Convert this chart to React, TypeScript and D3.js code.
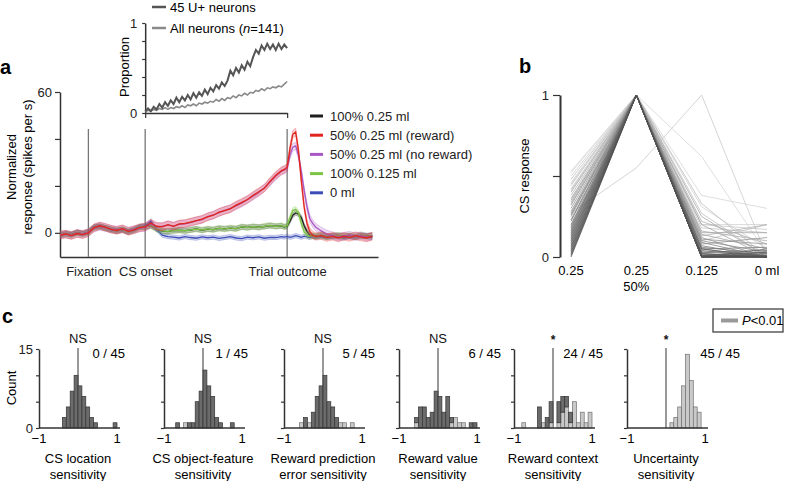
import React, { useEffect, useRef } from 'react'
import * as d3 from 'd3'

const font = 'Liberation Sans, Arial, Helvetica, sans-serif'

// ---- panel a: population response, time in s relative to CS onset
const times = [
  -1.5, -1.4, -1.3, -1.2, -1.1, -1.0, -0.9, -0.8, -0.7, -0.6, -0.5, -0.4, -0.3, -0.2, -0.1,
  0, 0.1, 0.2, 0.3, 0.4, 0.5, 0.6, 0.7, 0.8, 0.9, 1.0, 1.1, 1.2, 1.3, 1.4, 1.5, 1.6, 1.7, 1.8, 1.9, 2.0, 2.1, 2.2, 2.3, 2.4,
  2.45, 2.5, 2.55, 2.6, 2.65, 2.7, 2.75, 2.8, 2.85, 2.9, 2.95, 3.0,
  3.1, 3.2, 3.3, 3.4, 3.5, 3.6, 3.7, 3.8, 3.9, 4.0,
]

const black100 = [
  -0.9, -0.5, -0.9, 0.1, -0.4, 0.2, 2.3, 2.8, 2.1, 1.5, 0.9, 1.5, 0.5, 1.1, 2.3,
  2.5, 3.1, 1.5, 0.7, 0.5, 1, 1.1, 0.9, 1.2, 1.7, 1.1, 1.6, 1.4, 1.9, 1.7, 2, 1.8, 2.5, 2.3, 2.6, 2.4, 2.7, 3.1, 2.8, 3,
  2.5, 2.8, 5, 7.5, 8.5, 8, 6.5, 3, 0.5, -1, -1.2, -1.5,
  -1.1, -1.6, -1.3, -1.1, -1.5, -1.3, -1.6, -1.1, -1.3, -1.2,
]
const red50 = [
  -1, -0.5, -1.2, -0.3, -0.8, 0, 2.2, 3, 2.4, 1.5, 1, 1.8, 0.6, 1.2, 2.2,
  2.5, 4.2, 2.8, 2.5, 3.5, 2.8, 3.8, 4, 4.6, 5.2, 5.8, 6.8, 7.5, 8.8, 9.5, 10.2, 11.8, 13, 14.2, 16, 17.5, 19, 22, 24.5, 26.5,
  27, 28, 36, 42, 43, 35, 22, 11, 4, 0.5, -1, -1.5,
  -1.2, -2, -1.5, -2.2, -1.5, -2, -1.2, -1.8, -2.2, -1.5,
]
const purple50 = [
  -0.8, -0.6, -1, -0.2, -0.6, 0.2, 2, 2.8, 2.2, 1.6, 1.2, 1.6, 0.8, 1.4, 2,
  2.3, 3.8, 2.6, 2.8, 3.3, 2.9, 3.6, 3.8, 4.4, 5.1, 5.6, 6.9, 7.6, 8.6, 9.6, 10.4, 11.5, 12.6, 14.1, 15.6, 17.2, 19.2, 21.6, 24.2, 26.2,
  26.8, 27.5, 33, 36.5, 37, 33, 26, 18, 11, 6, 4, 2.5,
  0.8, -0.5, -1.2, -1.8, -1.4, -1, -1.6, -1.2, -1.8, -1.4,
]
const green125 = [
  -1, -0.4, -0.8, 0, -0.5, 0.3, 2.4, 2.7, 2, 1.4, 0.8, 1.4, 0.4, 1.2, 2.4,
  2.6, 3, 1.6, 0.8, 0.6, 0.9, 1.2, 0.8, 1.3, 1.6, 1.2, 1.7, 1.3, 2, 1.6, 2.1, 1.7, 2.6, 2.2, 2.7, 2.3, 2.8, 3.2, 2.7, 3.1,
  2.6, 3, 6.5, 9.5, 10, 8.5, 4, 0.5, -1, -1.5, -1.2, -1.6,
  -1, -1.8, -1.4, -1, -1.6, -1.2, -1.8, -1, -1.4, -1.2,
]
const blue0 = [
  -1.1, -0.3, -0.7, 0.1, -0.4, 0.4, 2.5, 2.9, 2.2, 1.3, 1.2, 1.3, 0.7, 1.5, 2.6,
  3, 5, 1.5, -1, -1.6, -1.8, -2.2, -1.6, -2, -2.3, -1.7, -2.1, -1.8, -2.4, -2, -1.6, -2.2, -2.5, -1.8, -2.1, -1.7, -2.3, -1.9, -2, -1.6,
  -1.8, -1.5, -1.9, -1.6, -1.2, -1.5, -1.9, -1.4, -1.7, -2, -1.5, -1.8,
  -1.6, -2, -1.5, -1.8, -2.1, -1.6, -1.9, -1.4, -1.7, -2,
]
const traceNames = ['100% 0.25 ml', '50% 0.25 ml (reward)', '50% 0.25 ml (no reward)', '100% 0.125 ml', '0 ml']
const traceValues = [black100, red50, purple50, green125, blue0]
const traceSem = [1, 1.6, 1.6, 1.2, 0.9]
const traceColors = ['#1e1e1e', '#e2261f', '#a957c4', '#7cc544', '#3c4db8']

const eventTimes = [-1, 0, 2.5]
const eventLabels = ['Fixation', 'CS onset', 'Trial outcome']

// inset: proportion of neurons
const insetTimes = d3.range(0, 2.5001, 0.05)
const propUplus = [
  0.02, 0.05, 0.02, 0.07, 0.04, 0.1, 0.06, 0.12, 0.08, 0.14, 0.1, 0.17, 0.12, 0.18, 0.14, 0.2, 0.15,
  0.22, 0.17, 0.23, 0.19, 0.26, 0.21, 0.28, 0.24, 0.31, 0.27, 0.34, 0.3, 0.36, 0.47, 0.42, 0.5, 0.45,
  0.53, 0.48, 0.57, 0.52, 0.62, 0.7, 0.66, 0.75, 0.7, 0.77, 0.71, 0.76, 0.7, 0.77, 0.71, 0.76, 0.72,
]
const propAll = [
  0.01, 0.03, 0.02, 0.04, 0.03, 0.05, 0.04, 0.06, 0.04, 0.06, 0.05, 0.07, 0.06, 0.08, 0.06, 0.09, 0.08,
  0.1, 0.08, 0.11, 0.1, 0.12, 0.11, 0.13, 0.12, 0.15, 0.13, 0.16, 0.14, 0.17, 0.16, 0.19, 0.17, 0.2,
  0.19, 0.22, 0.2, 0.23, 0.22, 0.25, 0.24, 0.27, 0.25, 0.28, 0.27, 0.29, 0.28, 0.3, 0.29, 0.32, 0.35,
]

// ---- panel b: CS response per neuron [100% 0.25, 50% 0.25, 100% 0.125, 0 ml]
const doseLabels = ['0.25', '0.25 50%', '0.125', '0 ml']
const csResponse = [
  [0.53, 1, 0.62, 0.02], [0.52, 1, 0.38, 0.3], [0.5, 1, 0.31, 0.05], [0.48, 1, 0.27, 0.0],
  [0.46, 1, 0.2, 0.2], [0.44, 1, 0.2, 0.17], [0.42, 1, 0.18, 0.15], [0.4, 1, 0.2, 0.0],
  [0.38, 1, 0.16, 0.1], [0.36, 1, 0.14, 0.05], [0.34, 1, 0.13, 0.2], [0.32, 1, 0.12, 0.0],
  [0.3, 1, 0.11, 0.08], [0.28, 1, 0.1, 0.03], [0.26, 1, 0.09, 0.0], [0.25, 1, 0.08, 0.12],
  [0.23, 1, 0.07, 0.0], [0.22, 1, 0.06, 0.02], [0.2, 1, 0.05, 0.0], [0.19, 1, 0.05, 0.06],
  [0.18, 1, 0.04, 0.0], [0.17, 1, 0.03, 0.01], [0.16, 1, 0.03, 0.04], [0.15, 1, 0.02, 0.0],
  [0.14, 1, 0.02, 0.0], [0.13, 1, 0.01, 0.03], [0.12, 1, 0.01, 0.0], [0.11, 1, 0.0, 0.02],
  [0.1, 1, 0.0, 0.0], [0.09, 1, 0.0, 0.05], [0.08, 1, 0.05, 0.0], [0.07, 1, 0.0, 0.0],
  [0.06, 1, 0.02, 0.0], [0.05, 1, 0.0, 0.03], [0.04, 1, 0.0, 0.0], [0.03, 1, 0.01, 0.0],
  [0.02, 1, 0.0, 0.01], [0.01, 1, 0.0, 0.0], [0.0, 1, 0.0, 0.0], [0.35, 1, 0.25, 0.0],
  [0.27, 1, 0.15, 0.15], [0.45, 1, 0.1, 0.2], [0.33, 1, 0.22, 0.08], [0.41, 1, 0.33, 0.0],
  [0.27, 0.55, 1, 0.0],
]

// ---- panel c: sensitivity histograms, 20 bins of 0.1 from -1 to 1
const binEdges = d3.range(-1, 0.95, 0.1)
const locNS = [0, 0, 0, 0, 0, 0, 2, 4, 7, 10, 8, 6, 4, 2, 1, 0, 0, 0, 0, 1]
const locSig = [0, 0, 0, 0, 0, 0, 0, 0, 0, 0, 0, 0, 0, 0, 0, 0, 0, 0, 0, 0]
const objNS = [0, 0, 0, 1, 0, 0, 1, 1, 5, 7, 11, 8, 6, 2, 1, 0, 0, 1, 0, 0]
const objSig = [0, 0, 0, 0, 0, 1, 0, 0, 0, 0, 0, 0, 0, 0, 0, 0, 0, 0, 0, 0]
const rpeNS = [0, 0, 0, 0, 0, 2, 0, 3, 6, 8, 10, 5, 4, 2, 0, 0, 0, 0, 0, 0]
const rpeSig = [0, 0, 0, 0, 1, 0, 1, 0, 0, 0, 0, 0, 0, 0, 1, 1, 0, 1, 0, 0]
const valNS = [0, 0, 0, 0, 1, 4, 4, 2, 3, 7, 6, 3, 6, 1, 0, 0, 0, 0, 1, 1]
const valSig = [0, 0, 0, 0, 1, 0, 0, 0, 0, 0, 0, 0, 0, 1, 2, 1, 1, 0, 0, 0]
const ctxNS = [0, 0, 0, 0, 0, 0, 4, 0, 2, 4, 0, 4, 3, 2, 2, 0, 0, 0, 0, 0]
const ctxSig = [0, 0, 1, 0, 0, 0, 0, 1, 0, 1, 0, 1, 3, 4, 1, 5, 1, 3, 1, 3]
const uncNS = [0, 0, 0, 0, 0, 0, 0, 0, 0, 0, 0, 0, 0, 0, 0, 0, 0, 0, 0, 0]
const uncSig = [0, 0, 0, 0, 0, 0, 0, 0, 0, 0, 0, 1, 2, 4, 8, 14, 9, 4, 3, 0]

const histTitles = [
  ['CS location', 'sensitivity'], ['CS object-feature', 'sensitivity'], ['Reward prediction', 'error sensitivity'],
  ['Reward value', 'sensitivity'], ['Reward context', 'sensitivity'], ['Uncertainty', 'sensitivity'],
]
const histMarks = ['NS', 'NS', 'NS', 'NS', '*', '*']
const histFractions = ['0 / 45', '1 / 45', '5 / 45', '6 / 45', '24 / 45', '45 / 45']
const histNS = [locNS, objNS, rpeNS, valNS, ctxNS, uncNS]
const histSig = [locSig, objSig, rpeSig, valSig, ctxSig, uncSig]

export default function App() {
  const ref = useRef<SVGSVGElement>(null)

  useEffect(() => {
    const svg = d3.select(ref.current)
    svg.selectAll('*').remove()
    svg.style('font-family', font).style('font-size', '13px')

    const styleAxis = (g: any) => {
      g.select('.domain').attr('stroke', '#333').attr('stroke-width', 1.5)
      g.selectAll('.tick line').attr('stroke', '#333').attr('stroke-width', 1.2)
      g.selectAll('.tick text').attr('font-size', 13).attr('font-family', font).attr('fill', '#222')
    }

    // ================= panel a
    const x = d3.scaleLinear().domain([-1.5, 4.1]).range([60, 378])
    const y = d3.scaleLinear().domain([-10.3, 60]).range([257, 92])

    svg.append('text').attr('x', 0).attr('y', 74).attr('font-weight', 'bold').attr('font-size', 20).text('a')

    svg.append('g')
      .attr('transform', 'translate(60,0)')
      .call(d3.axisLeft(y).tickValues([0, 20, 40, 60]).tickSize(5).tickSizeOuter(0)
        .tickFormat((d: any) => (d === 0 || d === 60 ? String(d) : '')))
      .call(styleAxis)

    svg.append('g')
      .attr('transform', 'translate(0,257)')
      .call(d3.axisBottom(x).tickValues(eventTimes).tickSize(0).tickPadding(10).tickSizeOuter(0)
        .tickFormat((d, i) => eventLabels[i]))
      .call(styleAxis)

    svg.append('g').selectAll('line').data(eventTimes).join('line')
      .attr('x1', d => x(d)).attr('x2', d => x(d))
      .attr('y1', 129).attr('y2', 257)
      .attr('stroke', '#777').attr('stroke-width', 1.3)

    const ylab = svg.append('text').attr('text-anchor', 'middle')
      .attr('transform', 'translate(16,167) rotate(-90)')
    ylab.append('tspan').attr('x', 0).attr('dy', 0).text('Normalized')
    ylab.append('tspan').attr('x', 0).attr('dy', 16).text('response (spikes per s)')

    const drawOrder = [0, 4, 3, 2, 1]
    drawOrder.forEach(k => {
      const vals = traceValues[k]
      const pts = times.map((t, i) => ({ t, v: vals[i] }))
      const band = d3.area<any>().x(d => x(d.t)).y0(d => y(d.v - traceSem[k])).y1(d => y(d.v + traceSem[k]))
      svg.append('path').datum(pts).attr('d', band)
        .attr('fill', traceColors[k]).attr('fill-opacity', 0.22)
      const edge = (s: number) => d3.line<any>().x(d => x(d.t)).y(d => y(d.v + s * traceSem[k]))
      ;[1, -1].forEach(s => svg.append('path').datum(pts).attr('d', edge(s))
        .attr('fill', 'none').attr('stroke', traceColors[k]).attr('stroke-opacity', 0.35).attr('stroke-width', 0.8))
      svg.append('path').datum(pts)
        .attr('d', d3.line<any>().x(d => x(d.t)).y(d => y(d.v)))
        .attr('fill', 'none').attr('stroke', traceColors[k]).attr('stroke-width', 1.3)
    })

    const leg = svg.append('g')
    traceNames.forEach((name, i) => {
      const yy = 116 + i * 19.2
      leg.append('line').attr('x1', 310).attr('x2', 323).attr('y1', yy).attr('y2', yy)
        .attr('stroke', traceColors[i]).attr('stroke-width', 3)
      leg.append('text').attr('x', 330).attr('y', yy + 4.5).attr('fill', '#222').text(name)
    })

    // inset
    const xi = d3.scaleLinear().domain([0, 2.5]).range([x(0), x(2.5)])
    const yi = d3.scaleLinear().domain([0, 1]).range([113, 23])
    svg.append('g')
      .attr('transform', `translate(${x(0)},0)`)
      .call(d3.axisLeft(yi).tickValues([0, 0.2, 0.4, 0.6, 0.8, 1]).tickSize(3).tickSizeOuter(0).tickPadding(5)
        .tickFormat((d: any) => (d === 0 ? '0' : d === 1 ? '1' : '')))
      .call(styleAxis)
    svg.append('g')
      .attr('transform', 'translate(0,113)')
      .call(d3.axisBottom(xi).tickValues([0, 2.5]).tickSize(5).tickSizeOuter(0).tickFormat(() => ''))
      .call(styleAxis)
    svg.append('text').attr('text-anchor', 'middle')
      .attr('transform', 'translate(129,67) rotate(-90)').text('Proportion')

    const insetLine = (vals: number[]) =>
      d3.line<number>().x((d, i) => xi(insetTimes[i])).y(d => yi(d))(vals)
    svg.append('path').attr('d', insetLine(propAll)).attr('fill', 'none')
      .attr('stroke', '#8a8a8a').attr('stroke-width', 1.6)
    svg.append('path').attr('d', insetLine(propUplus)).attr('fill', 'none')
      .attr('stroke', '#555').attr('stroke-width', 2)

    svg.append('line').attr('x1', 152).attr('x2', 166).attr('y1', 7).attr('y2', 7)
      .attr('stroke', '#555').attr('stroke-width', 2.5)
    svg.append('text').attr('x', 170).attr('y', 12).text('45 U+ neurons')
    svg.append('line').attr('x1', 152).attr('x2', 166).attr('y1', 28).attr('y2', 28)
      .attr('stroke', '#8a8a8a').attr('stroke-width', 2.5)
    const allTxt = svg.append('text').attr('x', 170).attr('y', 33)
    allTxt.append('tspan').text('All neurons (')
    allTxt.append('tspan').attr('font-style', 'italic').text('n')
    allTxt.append('tspan').text('=141)')

    // ================= panel b
    svg.append('text').attr('x', 519).attr('y', 73).attr('font-weight', 'bold').attr('font-size', 20).text('b')
    const xb = d3.scalePoint<string>().domain(doseLabels).range([571, 767])
    const yb = d3.scaleLinear().domain([0, 1]).range([257, 95])
    svg.append('g')
      .attr('transform', 'translate(560,0)')
      .call(d3.axisLeft(yb).tickValues([0, 0.5, 1]).tickSize(7).tickSizeOuter(0).tickPadding(4)
        .tickFormat((d: any) => (d === 0 ? '0' : d === 1 ? '1' : '')))
      .call(styleAxis)
    svg.select('g:last-of-type .domain').attr('stroke-width', 2)
    svg.append('text').attr('text-anchor', 'middle')
      .attr('transform', 'translate(529,176) rotate(-90)').text('CS response')

    const lineSum = (d: number[]) => d3.sum(d)
    const gray = d3.scaleLinear<string>().domain([1, 1.9]).range(['#505050', '#d6d6d6']).clamp(true)
    const neurons = csResponse.slice().sort((a, b) => lineSum(b) - lineSum(a))
    svg.append('g').selectAll('path').data(neurons).join('path')
      .attr('d', d => d3.line<number>().x((v, i) => xb(doseLabels[i]) as number).y(v => yb(v))(d))
      .attr('fill', 'none').attr('stroke', d => gray(lineSum(d))).attr('stroke-width', 1)
      .attr('stroke-opacity', 0.8)

    doseLabels.forEach(lab => {
      const parts = lab.split(' ')
      const txt = svg.append('text').attr('text-anchor', 'middle').attr('x', xb(lab) as number).attr('y', 275)
      if (lab === '0 ml') txt.text(lab)
      else {
        txt.text(parts[0])
        if (parts[1]) svg.append('text').attr('text-anchor', 'middle').attr('x', xb(lab) as number).attr('y', 291).text(parts[1])
      }
    })

    // ================= panel c
    svg.append('text').attr('x', 2).attr('y', 323).attr('font-weight', 'bold').attr('font-size', 20).text('c')
    const zeros = [78, 203, 323, 438, 553, 666]
    const fracDx = [47, 45, 52, 63, 50, 74]
    const yh = d3.scaleLinear().domain([0, 15]).range([428, 349])

    zeros.forEach((z, p) => {
      const xh = d3.scaleLinear().domain([-1, 1]).range([z - 39, z + 39])
      const g = svg.append('g')

      g.append('line').attr('x1', xh(0)).attr('x2', xh(0)).attr('y1', 348).attr('y2', 428)
        .attr('stroke', '#555').attr('stroke-width', 1.2)

      const bins = binEdges.map((e, j) => ({ e, ns: histNS[p][j], sig: histSig[p][j] }))
      g.selectAll('rect.sig').data(bins.filter(b => b.sig > 0)).join('rect')
        .attr('x', b => xh(b.e)).attr('width', xh(0.1) - xh(0))
        .attr('y', b => yh(b.sig)).attr('height', b => yh(0) - yh(b.sig))
        .attr('fill', '#c9c9c9').attr('stroke', '#707070').attr('stroke-width', 0.7)
      g.selectAll('rect.ns').data(bins.filter(b => b.ns > 0)).join('rect')
        .attr('x', b => xh(b.e)).attr('width', xh(0.1) - xh(0))
        .attr('y', b => yh(b.sig + b.ns)).attr('height', b => yh(b.sig) - yh(b.sig + b.ns))
        .attr('fill', '#6b6b6b').attr('stroke', '#333').attr('stroke-width', 0.7)

      g.append('g')
        .attr('transform', `translate(${xh(-1)},0)`)
        .call(d3.axisLeft(yh).tickValues([0, 5, 10, 15]).tickSize(3).tickSizeOuter(0).tickPadding(3)
          .tickFormat((d: any) => (p === 0 && (d === 0 || d === 15) ? String(d) : '')))
        .call(styleAxis)
      g.append('line').attr('x1', xh(-1)).attr('x2', z + 42).attr('y1', 428).attr('y2', 428)
        .attr('stroke', '#333').attr('stroke-width', 1.5)

      g.append('text').attr('text-anchor', 'middle').attr('x', xh(-1)).attr('y', 443).text('\u22121')
      g.append('text').attr('text-anchor', 'middle').attr('x', xh(1)).attr('y', 443).text('1')

      const star = histMarks[p] === '*'
      g.append('text').attr('text-anchor', 'middle').attr('x', xh(0))
        .attr('y', star ? 344 : 343).attr('font-size', star ? 12 : 13)
        .attr('font-weight', star ? 'bold' : 'normal').attr('fill', '#111')
        .text(histMarks[p])
      g.append('text').attr('text-anchor', 'end').attr('x', z + fracDx[p]).attr('y', 358).text(histFractions[p])

      histTitles[p].forEach((t, k) => {
        g.append('text').attr('text-anchor', 'middle').attr('x', xh(0)).attr('y', 463 + k * 16).text(t)
      })
    })

    svg.append('text').attr('text-anchor', 'middle')
      .attr('transform', 'translate(16,388) rotate(-90)').text('Count')

    svg.append('rect').attr('x', 713).attr('y', 309).attr('width', 70).attr('height', 23)
      .attr('fill', 'none').attr('stroke', '#333').attr('stroke-width', 1.2)
    svg.append('line').attr('x1', 721).attr('x2', 738).attr('y1', 320.5).attr('y2', 320.5)
      .attr('stroke', '#9a9a9a').attr('stroke-width', 4)
    const pt = svg.append('text').attr('x', 742).attr('y', 325)
    pt.append('tspan').attr('font-style', 'italic').text('P')
    pt.append('tspan').text('<0.01')
  }, [])

  return (
    <svg ref={ref} width={788} height={481}
      style={{ position: 'absolute', left: 0, top: 0, background: '#fff' }} />
  )
}
